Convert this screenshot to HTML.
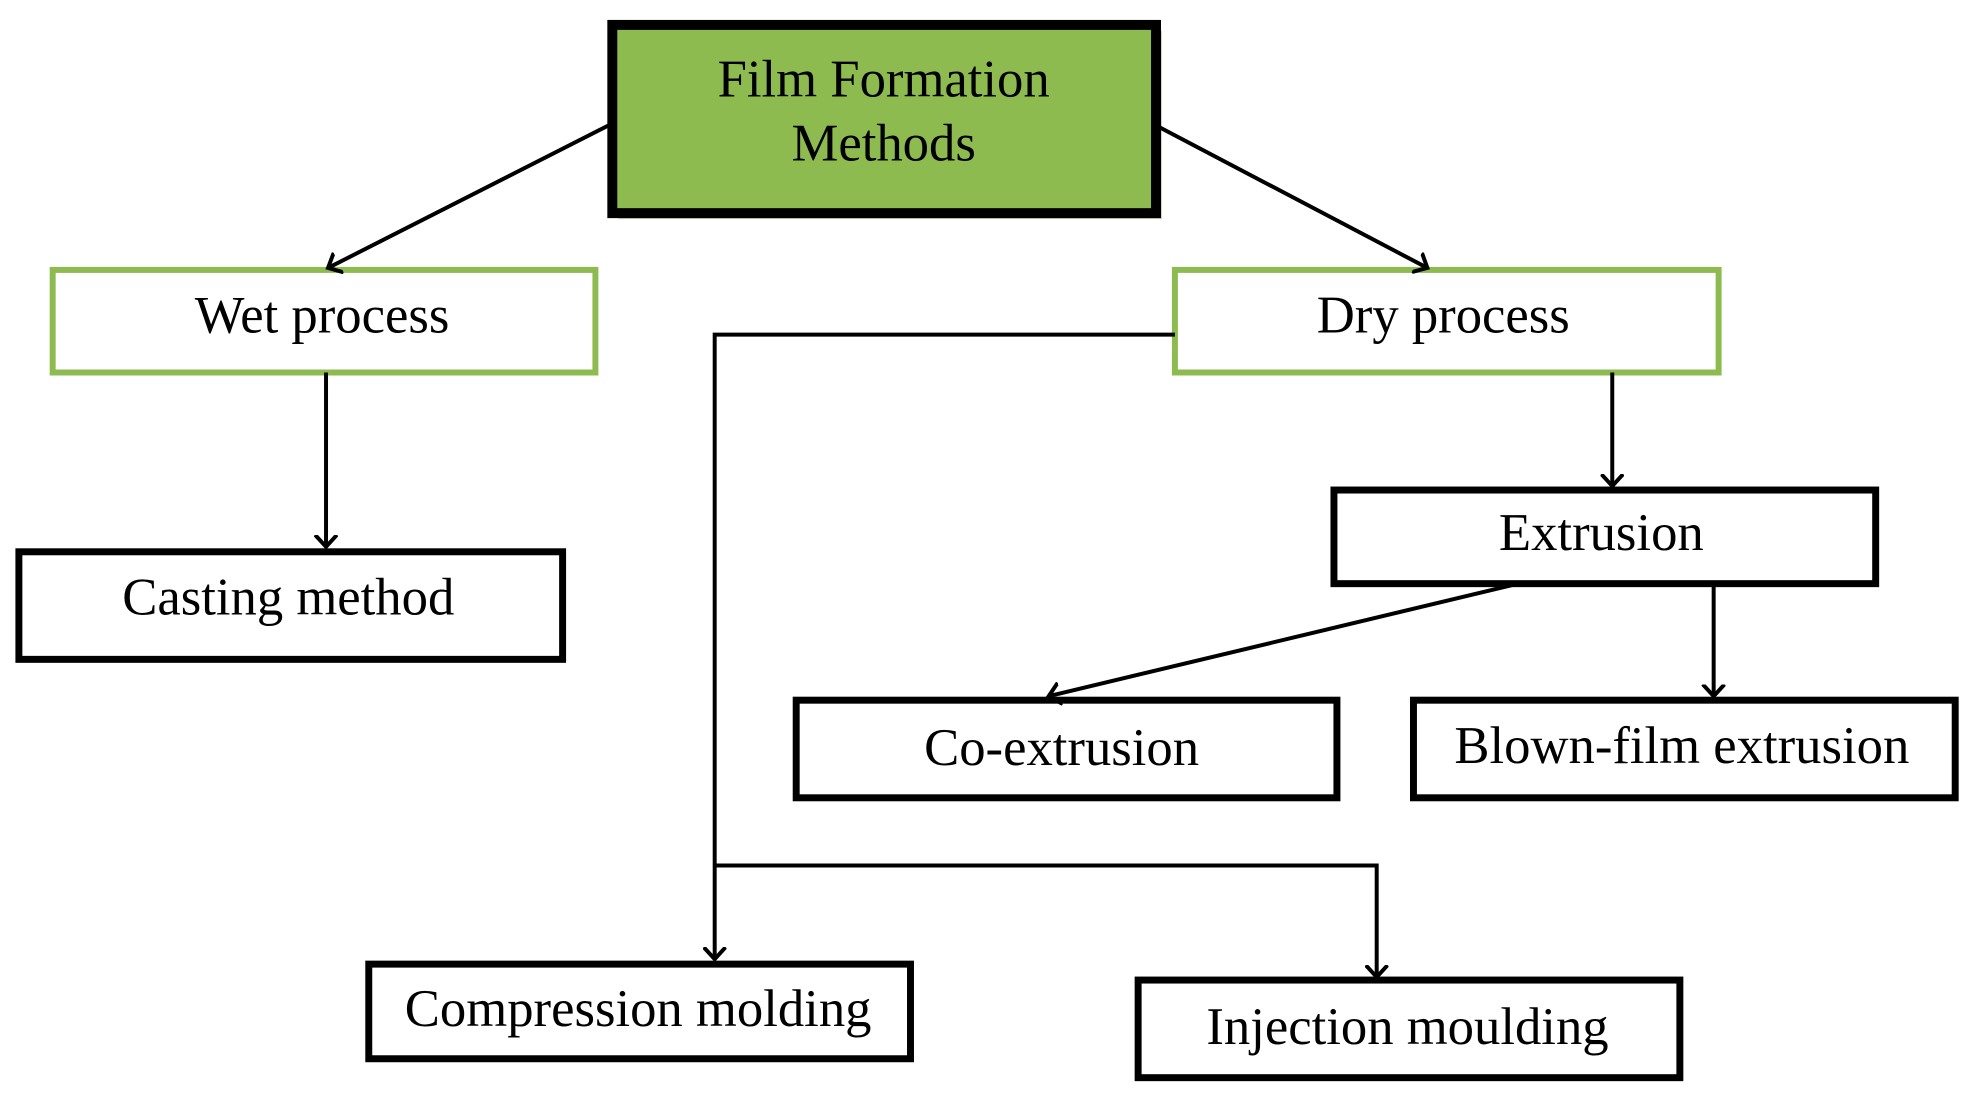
<!DOCTYPE html>
<html><head><style>html,body{margin:0;padding:0;background:#fff;}svg{display:block}</style></head>
<body>
<svg width="1983" height="1098" xmlns="http://www.w3.org/2000/svg" font-family="Liberation Serif, serif" font-size="53">
<defs><marker id="a" markerWidth="24" markerHeight="24" refX="12" refY="12" orient="auto" markerUnits="userSpaceOnUse"><path d="M0,1 L12,12 L0,23" fill="none" stroke="#000" stroke-width="4"/></marker></defs>
<g transform="scale(0.994,0.996)">
<rect x="622" y="31" width="547" height="189" fill="#ccd6c0"/>
<rect x="616" y="25" width="547" height="189" fill="#8dbb4f" stroke="#000" stroke-width="10"/>
<text x="889" y="97" text-anchor="middle">Film Formation</text>
<text x="889" y="161" text-anchor="middle">Methods</text>
<rect x="53" y="271" width="546" height="103" fill="#fff" stroke="#8dbb4f" stroke-width="6"/>
<text x="324" y="334" text-anchor="middle">Wet process</text>
<rect x="1182" y="271" width="547" height="103" fill="#fff" stroke="#8dbb4f" stroke-width="6"/>
<text x="1452" y="334" text-anchor="middle">Dry process</text>
<g fill="#fff" stroke="#000" stroke-width="7">
<rect x="19" y="554" width="547" height="108"/>
<rect x="1342" y="492" width="545" height="94"/>
<rect x="801" y="703" width="544" height="98"/>
<rect x="1422" y="703" width="545" height="98"/>
<rect x="371" y="968" width="545" height="95"/>
<rect x="1145" y="984" width="545" height="98"/>
</g>
<text x="290" y="617" text-anchor="middle">Casting method</text>
<text x="1611" y="552" text-anchor="middle">Extrusion</text>
<text x="1068" y="768" text-anchor="middle">Co-extrusion</text>
<text x="1692" y="766" text-anchor="middle">Blown-film extrusion</text>
<text x="642" y="1030" text-anchor="middle">Compression molding</text>
<text x="1416" y="1048" text-anchor="middle">Injection moulding</text>
<g stroke="#000" stroke-width="4" fill="none">
<line x1="614" y1="125" x2="330" y2="269" marker-end="url(#a)"/>
<line x1="1165" y1="127" x2="1436" y2="269" marker-end="url(#a)"/>
<line x1="328" y1="374" x2="328" y2="549" marker-end="url(#a)"/>
<polyline points="1182,336 719,336 719,963" marker-end="url(#a)"/>
<polyline points="719,869 1385,869 1385,981" marker-end="url(#a)"/>
<line x1="1622" y1="374" x2="1622" y2="488" marker-end="url(#a)"/>
<line x1="1523" y1="587" x2="1055" y2="699" marker-end="url(#a)"/>
<line x1="1724" y1="586" x2="1724" y2="699" marker-end="url(#a)"/>
</g>
</g>
</svg>
</body></html>
